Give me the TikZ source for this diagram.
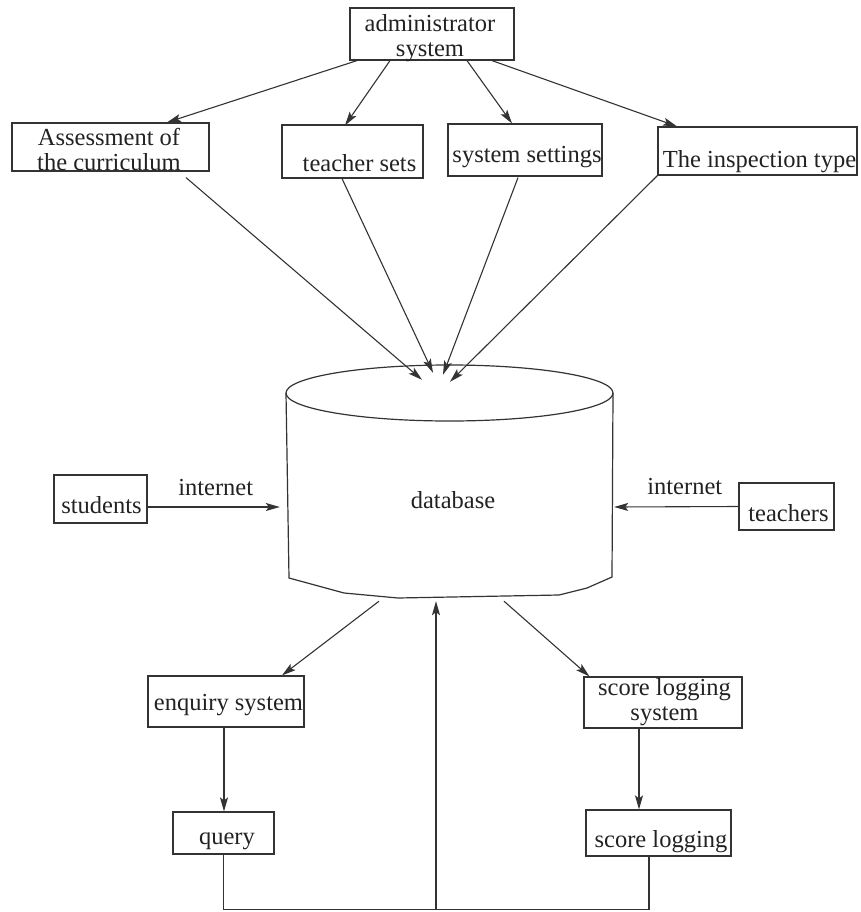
\documentclass[tikz,border=0pt]{standalone}
\usepackage{fontspec}
\setmainfont{Liberation Serif}
\usetikzlibrary{arrows.meta,calc}
\definecolor{ink}{HTML}{222222}
\definecolor{edgec}{HTML}{333333}
\begin{document}
\begin{tikzpicture}[x=1pt,y=-1pt,
  box/.style={draw=edgec, line width=1.2pt, inner sep=0pt, rectangle},
  txt/.style={text=ink, font=\fontsize{24.5}{25}\selectfont, inner sep=0pt, align=center},
  conn/.style={draw=edgec, line width=1.1pt, -{Stealth[length=14pt,width=8pt,inset=3pt]}},
  wire/.style={draw=edgec, line width=1.1pt}]
\useasboundingbox (0,0) rectangle (860,912);

% boxes
\node[box, minimum width=164pt, minimum height=52pt,
  label={[txt,anchor=center,xshift=-2pt,yshift=-3.8pt]center:administrator\\system}] (admin) at (432,34) {};
\node[box, minimum width=197pt, minimum height=48pt,
  label={[txt,anchor=center,xshift=-1.5pt,yshift=-2.6pt]center:Assessment of\\the curriculum}] (assess) at (110.5,147) {};
\node[box, minimum width=141pt, minimum height=53pt,
  label={[txt,anchor=base,xshift=7pt,yshift=-11.8pt]center:teacher sets}] (tsets) at (352.5,151.5) {};
\node[box, minimum width=154pt, minimum height=52pt,
  label={[txt,anchor=base,xshift=2pt,yshift=-6.7pt]center:system settings}] (ssett) at (525,150) {};
\node[box, minimum width=199pt, minimum height=48pt,
  label={[txt,anchor=base,xshift=2pt,yshift=-10.7pt]center:The inspection type}] (insp) at (757.5,151) {};
\node[box, minimum width=93pt, minimum height=48pt,
  label={[txt,anchor=base,xshift=1pt,yshift=-6pt]center:students}] (students) at (100.5,499) {};
\node[box, minimum width=95pt, minimum height=47pt,
  label={[txt,anchor=base,xshift=2pt,yshift=-6.2pt]center:teachers}] (teachers) at (786.5,506.5) {};
\node[box, minimum width=156pt, minimum height=51pt,
  label={[txt,anchor=base,xshift=2.5pt,yshift=-3.5pt]center:enquiry system}] (enquiry) at (226,701.5) {};
\node[box, minimum width=101pt, minimum height=42pt,
  label={[txt,anchor=base,xshift=3.5pt,yshift=-8.7pt]center:query}] (query) at (223.5,833) {};
\node[box, minimum width=158pt, minimum height=51pt,
  label={[txt,anchor=center,xshift=1.5pt,yshift=0.7pt]center:score logging\\system}] (scoresys) at (663,702.5) {};
\node[box, minimum width=145pt, minimum height=46pt,
  label={[txt,anchor=base,xshift=2.5pt,yshift=-9pt]center:score logging}] (scorelog) at (658.5,833) {};

% database cylinder
\node[inner sep=0pt, minimum width=327pt, minimum height=233pt,
  label={[txt,anchor=base,xshift=3.5pt,yshift=-18.5pt]center:database}] (db) at (449.5,481.5) {};
\draw[wire, line width=1.2pt] (449.5,393) ellipse [x radius=163.5pt, y radius=28pt];
\draw[wire, line width=1.2pt] (286,393) -- (289,578) -- (344,593) -- (398,598) -- (559,595) -- (587,588) -- (612,577) -- (613,393);

% top arrows
\draw[conn] ([xshift=-75pt]admin.south) -- ([xshift=56.5pt]assess.north);
\draw[conn] ([xshift=-42pt]admin.south) -- ([xshift=-7.5pt,yshift=-1pt]tsets.north);
\draw[conn] ([xshift=35pt]admin.south) -- ([xshift=-13pt]ssett.north);
\draw[conn] ([xshift=60pt]admin.south) -- ([xshift=-80.5pt]insp.north);

% to database
\draw[conn] ([xshift=75.5pt,yshift=-6pt]assess.south) -- ([xshift=-27.5pt,yshift=-15pt]db.north);
\draw[conn] ([xshift=-10.5pt]tsets.south) -- ([xshift=-16.5pt,yshift=-8pt]db.north);
\draw[conn] ([xshift=-7pt,yshift=-1pt]ssett.south) -- ([xshift=-6.5pt,yshift=-10pt]db.north);
\draw[conn] (insp.south west) -- ([xshift=0.5pt,yshift=-17pt]db.north);

% side inputs
\draw[conn] ([yshift=-8pt]students.east) -- node[txt,anchor=base,yshift=12pt,pos=0.515] (inetL) {internet} ([xshift=-6pt,yshift=-25.5pt]db.west);
\draw[conn] (teachers.west) -- node[txt,anchor=base,yshift=12pt,pos=0.432] (inetR) {internet} ([xshift=1pt,yshift=-25.5pt]db.east);

% bottom
\draw[conn] ([xshift=-70.5pt,yshift=-3pt]db.south) -- ([xshift=56pt]enquiry.north);
\draw[conn] ([xshift=54.5pt,yshift=-3pt]db.south) -- ([xshift=6pt]scoresys.north west);
\draw[conn] ([xshift=-2pt]enquiry.south) -- ([xshift=0.5pt]query.north);
\draw[conn] ([xshift=-24pt]scoresys.south) -- ([xshift=-19.5pt]scorelog.north);
\draw[wire] (query.south) -- ++(0,55) -| ([xshift=-9.5pt]scorelog.south);
\coordinate (loopmid) at (436,909);
\draw[conn] (loopmid) -- ([xshift=-13.5pt,yshift=-3pt]db.south);
\end{tikzpicture}
\end{document}
